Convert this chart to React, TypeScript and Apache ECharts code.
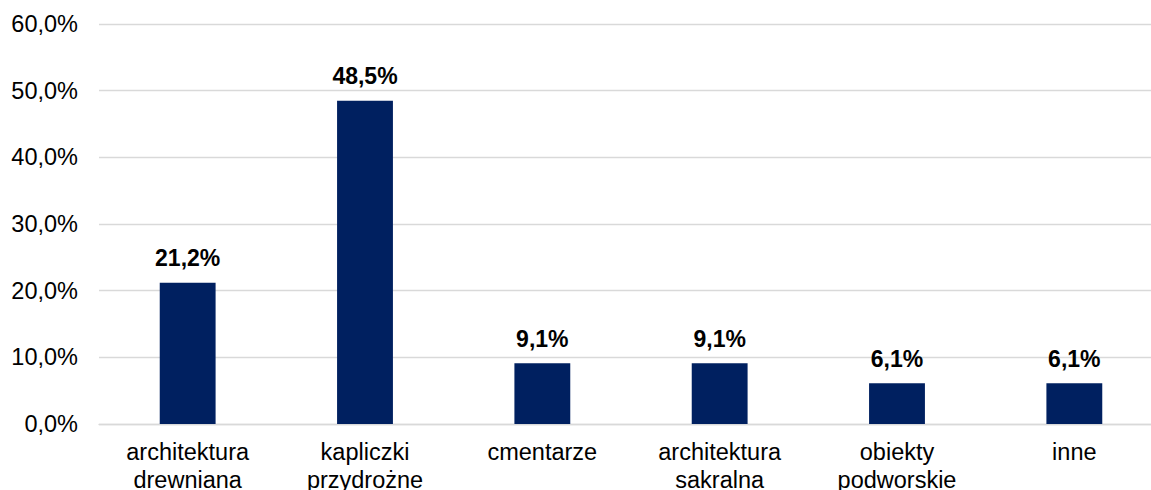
import React, { useEffect, useRef } from "react";
import * as echarts from "echarts";

const categories = [
  "architektura\ndrewniana",
  "kapliczki\nprzydrożne",
  "cmentarze",
  "architektura\nsakralna",
  "obiekty\npodworskie",
  "inne",
];
const values = [21.2, 48.5, 9.1, 9.1, 6.1, 6.1];
const yMin = 0;
const yMax = 60;
const yInterval = 10;

const fmt = (v: number) => v.toFixed(1).replace(".", ",") + "%";

export default function App() {
  const ref = useRef<HTMLDivElement>(null);
  useEffect(() => {
    if (!ref.current) return;
    const chart = echarts.init(ref.current, undefined, { renderer: "svg" });
    chart.setOption({
      animation: false,
      backgroundColor: "#ffffff",
      grid: {
        left: 99,
        right: 0,
        top: 24,
        bottom: 66,
        containLabel: false,
        outerBoundsMode: "none",
      },
      xAxis: {
        type: "category",
        data: categories,
        axisLine: { show: true, lineStyle: { color: "#d9d9d9", width: 1.3 } },
        axisTick: { show: false },
        axisLabel: {
          color: "#000",
          fontFamily: "Liberation Sans, Arial, sans-serif",
          fontSize: 23.5,
          lineHeight: 28,
          margin: 14,
          interval: 0,
        },
      },
      yAxis: {
        type: "value",
        min: yMin,
        max: yMax,
        interval: yInterval,
        axisLine: { show: false },
        axisTick: { show: false },
        splitLine: { lineStyle: { color: "#d9d9d9", width: 1.3 } },
        axisLabel: {
          color: "#000",
          fontFamily: "Liberation Sans, Arial, sans-serif",
          fontSize: 23.5,
          margin: 21,
          formatter: (v: number) => fmt(v),
        },
      },
      series: [
        {
          type: "bar",
          data: values,
          barWidth: "31.5%",
          itemStyle: { color: "#002060" },
          label: {
            show: true,
            position: "top",
            distance: 13,
            color: "#000",
            fontWeight: "bold",
            fontFamily: "Liberation Sans, Arial, sans-serif",
            fontSize: 23,
            formatter: (p: any) => fmt(p.value),
          },
        },
      ],
    });
    return () => chart.dispose();
  }, []);
  return (
    <div style={{ position: "fixed", left: 0, top: 0, width: 1151, height: 490, overflow: "hidden", background: "#fff" }}>
      <div ref={ref} style={{ width: 1163, height: 490 }} />
    </div>
  );
}
